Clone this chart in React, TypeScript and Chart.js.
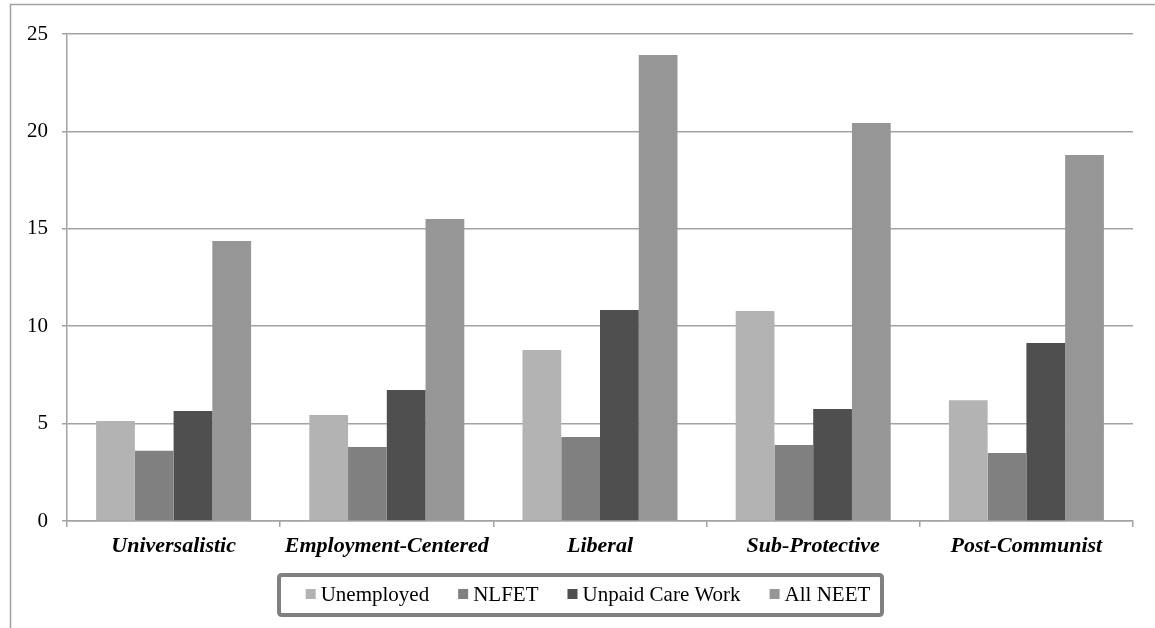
import React, { useEffect, useRef } from "react";
import { Chart, registerables } from "chart.js";

Chart.register(...registerables);

const categories = ["Universalistic", "Employment-Centered", "Liberal", "Sub-Protective", "Post-Communist"];
const unemployed = [5.13, 5.44, 8.78, 10.78, 6.2];
const nlfet = [3.6, 3.8, 4.31, 3.9, 3.49];
const unpaidCare = [5.65, 6.72, 10.83, 5.75, 9.14];
const allNeet = [14.37, 15.5, 23.92, 20.43, 18.79];
const seriesLabels = ["Unemployed", "NLFET", "Unpaid Care Work", "All NEET"];
const seriesColors = ["#b3b3b3", "#808080", "#4f4f4f", "#969696"];

const SERIF = '"Liberation Serif", "Times New Roman", Times, serif';

const framePlugin = {
  id: "frameAndLegend",
  afterDraw(chart: any) {
    const ctx = chart.ctx as CanvasRenderingContext2D;
    ctx.save();
    // outer frame (top and left)
    ctx.strokeStyle = "#a3a3a3";
    ctx.lineWidth = 1.5;
    ctx.beginPath();
    ctx.moveTo(1155, 4.5);
    ctx.lineTo(10.5, 4.5);
    ctx.lineTo(10.5, 628);
    ctx.stroke();

    // legend
    const fontSize = 21;
    ctx.font = `${fontSize}px ${SERIF}`;
    const box = 10;
    const gapText = 5;
    const gapItem = 29;
    const widths = seriesLabels.map((l) => box + gapText + ctx.measureText(l).width);
    const total = widths.reduce((a, b) => a + b, 0) + gapItem * (seriesLabels.length - 1);
    const cx = 588;
    const cy = 595;
    // border box
    const bx = 279;
    const by = 575;
    const bw = 603;
    const bh = 40;
    ctx.strokeStyle = "#808080";
    ctx.lineWidth = 4;
    ctx.beginPath();
    const r = 3;
    ctx.moveTo(bx + r, by);
    ctx.lineTo(bx + bw - r, by);
    ctx.quadraticCurveTo(bx + bw, by, bx + bw, by + r);
    ctx.lineTo(bx + bw, by + bh - r);
    ctx.quadraticCurveTo(bx + bw, by + bh, bx + bw - r, by + bh);
    ctx.lineTo(bx + r, by + bh);
    ctx.quadraticCurveTo(bx, by + bh, bx, by + bh - r);
    ctx.lineTo(bx, by + r);
    ctx.quadraticCurveTo(bx, by, bx + r, by);
    ctx.stroke();

    let x = cx - total / 2;
    ctx.textBaseline = "middle";
    ctx.textAlign = "left";
    seriesLabels.forEach((l, i) => {
      ctx.fillStyle = seriesColors[i];
      ctx.fillRect(x, cy - 6, box, box);
      ctx.fillStyle = "#000";
      ctx.fillText(l, x + box + gapText, cy);
      x += widths[i] + gapItem;
    });
    ctx.restore();
  },
};

export default function App() {
  const ref = useRef<HTMLCanvasElement | null>(null);
  useEffect(() => {
    if (!ref.current) return;
    const data = [unemployed, nlfet, unpaidCare, allNeet];
    const chart = new Chart(ref.current, {
      type: "bar",
      data: {
        labels: categories,
        datasets: seriesLabels.map((label, i) => ({
          label,
          data: data[i],
          backgroundColor: seriesColors[i],
          borderWidth: 0,
          categoryPercentage: 0.727,
          barPercentage: 1,
        })),
      },
      options: {
        animation: false,
        responsive: true,
        maintainAspectRatio: false,
        devicePixelRatio: 1,
        layout: { padding: { top: 34, right: 22, bottom: 67, left: 0 } },
        plugins: {
          legend: { display: false },
          tooltip: { enabled: false },
          title: { display: false },
        },
        scales: {
          x: {
            grid: {
              display: true,
              drawOnChartArea: false,
              drawTicks: true,
              tickLength: 6,
              color: "#a3a3a3",
              lineWidth: 1.5,
              offset: true,
            },
            border: { color: "#a3a3a3", width: 1.5 },
            ticks: {
              color: "#000",
              padding: 6,
              maxRotation: 0,
              font: { family: SERIF, size: 22, weight: "bold", style: "italic" },
            },
            afterFit(scale: any) {
              scale.height = 40;
            },
          },
          y: {
            min: 0,
            max: 25,
            ticks: {
              stepSize: 5,
              color: "#000",
              padding: 14,
              font: { family: SERIF, size: 21 },
            },
            grid: { color: "#a3a3a3", lineWidth: 1.5, tickLength: 5 },
            border: { color: "#a3a3a3", width: 1.5 },
            afterFit(scale: any) {
              scale.width = 67;
            },
          },
        },
      },
      plugins: [framePlugin],
    });
    return () => chart.destroy();
  }, []);
  return (
    <div style={{ position: "fixed", left: 0, top: 0, width: 1155, height: 628, background: "#fff" }}>
      <canvas ref={ref} />
    </div>
  );
}
